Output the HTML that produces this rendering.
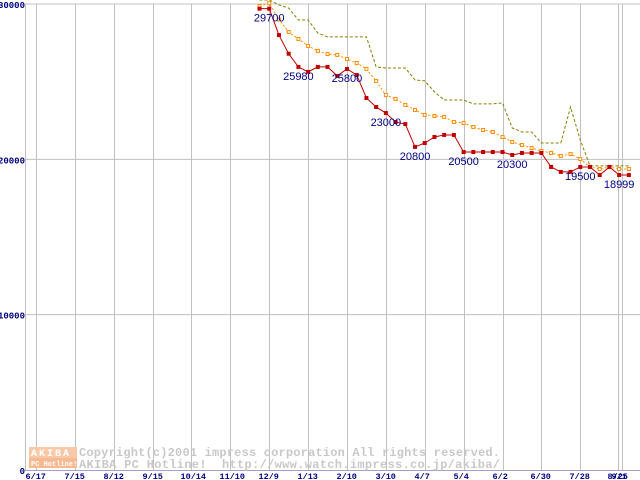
<!DOCTYPE html>
<html><head><meta charset="utf-8"><style>
html,body{margin:0;padding:0;background:#fff;}
svg{display:block;font-family:"Liberation Mono","DejaVu Sans Mono",monospace;}
</style></head><body>
<svg id="chart" width="640" height="480" viewBox="0 0 640 480" xmlns="http://www.w3.org/2000/svg">
<g id="grid"></g>
<g id="watermark">
  <rect x="29" y="447" width="48" height="11" fill="#f8c8a8"/>
  <rect x="29" y="458" width="48" height="10" fill="#f8b890"/>
  <text x="31" y="456" font-size="10" font-weight="bold" fill="#fff" letter-spacing="2">AKIBA</text>
  <text x="31" y="466" font-size="7" font-weight="bold" fill="#fff">PC Hotline!</text>
  <text x="79" y="456" font-size="12" font-weight="bold" fill="#c8c8c8" textLength="421" lengthAdjust="spacing">Copyright(c)2001 impress corporation All rights reserved.</text>
  <text x="79" y="468" font-size="12" font-weight="bold" fill="#c8c8c8" xml:space="preserve" textLength="421" lengthAdjust="spacing">AKIBA PC Hotline!  http://www.watch.impress.co.jp/akiba/</text>
</g>
<g id="series"></g>
<g id="labels"></g>
</svg>
<script>
const xTickLabels = ["6/17","7/15","8/12","9/15","10/14","11/10","12/9","1/13","2/10","3/10","4/7","5/4","6/2","6/30","7/28","8/25","9/1"];
const xTickWeeks = [-23,-19,-15,-11,-7,-3,1,5,9,13,17,21,25,29,33,36.9,37.3];
const yTicks = [0,10000,20000,30000];
const lowPrice = [29700,29700,28000,26800,25950,25630,25950,25950,25370,25820,25430,23950,23370,22980,22400,22270,20800,21050,21440,21570,21570,20470,20470,20470,20470,20470,20280,20410,20410,20410,19510,19190,19190,19510,19510,18990,19510,18990,18990];
const avgPrice = [29870,30050,29000,28200,27750,27300,26980,26780,26720,26460,26200,25820,25040,24140,23890,23500,23180,22860,22790,22730,22400,22340,22080,21890,21760,21440,21120,20920,20730,20540,20410,20220,20340,20020,19510,19380,19510,19380,19380];
const maxPrice = [30260,30260,29940,29740,28970,28970,28130,27880,27880,27880,27880,27880,25950,25880,25880,25880,25110,25050,24340,23820,23820,23820,23570,23570,23570,23630,22020,21760,21760,21050,21050,21050,23370,21250,19580,19580,19580,19580,19580];
const annotIndex = [1,4,9,13,16,21,26,33,37];
const annotText = ["29700","25980","25800","23000","20800","20500","20300","19500","18999"];

const NS="http://www.w3.org/2000/svg";
function x(i){return 259.5+i*9.72;}
function y(v){return 470-v*(466/30000);}
function mk(tag,attrs,parent){const e=document.createElementNS(NS,tag);for(const k in attrs)e.setAttribute(k,attrs[k]);parent.appendChild(e);return e;}
const grid=document.getElementById('grid'), ser=document.getElementById('series'), lab=document.getElementById('labels');

yTicks.forEach(v=>{
  if(v>0){const l=mk('line',{x1:25,x2:640,y1:y(v),y2:y(v),stroke:'#c0c0c0','stroke-width':1},grid);
  
  }
  const t=mk('text',{x:25,y:y(v)+4,'text-anchor':'end','font-size':9,'font-weight':'bold',fill:'#000080'},grid);
  t.textContent=String(v);
  
  
});
xTickWeeks.forEach((w,k)=>{
  const xx=Math.round(x(w))+0.5;
  const l=mk('line',{x1:xx,x2:xx,y1:4,y2:470,stroke:'#c0c0c0','stroke-width':1},grid);
  
  
  const t=mk('text',{x:xx-11,y:479,'font-size':8.5,'font-weight':'bold',fill:'#000080'},grid);
  t.textContent=xTickLabels[k];
  
  
});
const ax=mk('line',{x1:25.5,x2:25.5,y1:4,y2:470,stroke:'#c0c0c0'},grid);


const bx=mk('line',{x1:25,x2:640,y1:470.5,y2:470.5,stroke:'#a0a0c8'},grid);



function pts(arr){return arr.map((v,i)=>x(i)+','+y(v)).join(' ');}
const ol=mk('polyline',{points:pts(maxPrice),fill:'none',stroke:'#808000','stroke-width':1,'stroke-dasharray':'3,2'},ser);


const or=mk('polyline',{points:pts(avgPrice),fill:'none',stroke:'#ff8c00','stroke-width':1,'stroke-dasharray':'2,2'},ser);


avgPrice.forEach((v,i)=>{
  const r=mk('rect',{x:x(i)-1.5,y:y(v)-1.5,width:3,height:3,fill:'#fff',stroke:'#ff8c00','stroke-width':1},ser);
  
  
});
const rd=mk('polyline',{points:pts(lowPrice),fill:'none',stroke:'#c00000','stroke-width':1},ser);


lowPrice.forEach((v,i)=>{
  const r=mk('rect',{x:x(i)-2,y:y(v)-2,width:4,height:4,fill:'#c00000'},ser);
  
  
});
annotIndex.forEach((i,k)=>{
  const t=mk('text',{x:x(i),y:y(lowPrice[i])+13,'text-anchor':'middle','font-size':11,fill:'#000080','font-family':'"Liberation Sans",sans-serif'},lab);
  t.textContent=annotText[k];
  
  
});
</script>
</body></html>
